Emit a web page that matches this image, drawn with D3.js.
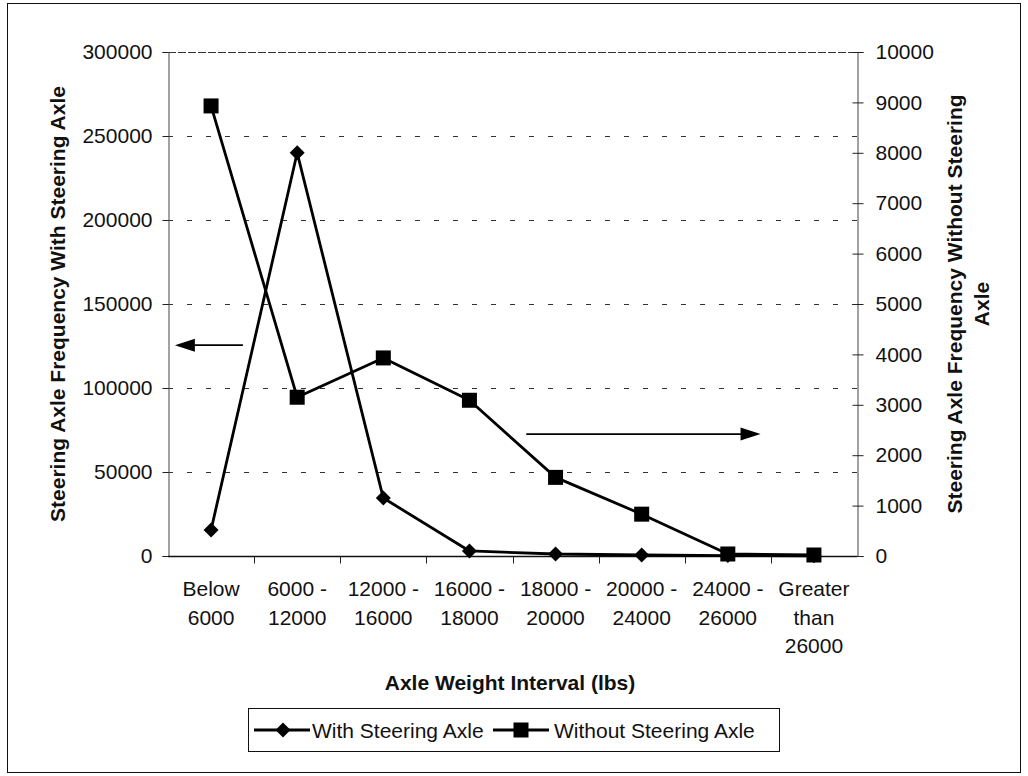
<!DOCTYPE html>
<html>
<head>
<meta charset="utf-8">
<script src="https://cdn.jsdelivr.net/npm/d3@7"></script>
<style>
  html, body { margin: 0; padding: 0; background: #fff; }
  svg { display: block; font-family: "Liberation Sans", Arial, Helvetica, sans-serif; }
</style>
</head>
<body>
<svg id="chart" width="1028" height="776"></svg>
<script>
// Axle weight intervals (two-line / three-line category labels)
const categories = [
  ["Below", "6000"],
  ["6000 -", "12000"],
  ["12000 -", "16000"],
  ["16000 -", "18000"],
  ["18000 -", "20000"],
  ["20000 -", "24000"],
  ["24000 -", "26000"],
  ["Greater", "than", "26000"]
];

// Steering axle frequency, with steering axle (left axis)
const withSteering = [15500, 240000, 34500, 3000, 1200, 600, 250, 100];
// Steering axle frequency, without steering axle (right axis)
const withoutSteering = [8930, 3150, 3930, 3090, 1560, 830, 40, 20];

const leftTicks = [0, 50000, 100000, 150000, 200000, 250000, 300000];
const rightTicks = [0, 1000, 2000, 3000, 4000, 5000, 6000, 7000, 8000, 9000, 10000];

const seriesNames = ["With Steering Axle", "Without Steering Axle"];

const svg = d3.select("#chart");
const plot = { left: 168, right: 857, top: 52, bottom: 556 };
const FS = 21;

// Outer frame
svg.append("rect")
  .attr("x", 7.5).attr("y", 3.5)
  .attr("width", 1013).attr("height", 769)
  .attr("fill", "none").attr("stroke", "#111").attr("stroke-width", 1);

const n = categories.length;
const x = d3.scaleLinear().domain([0, n]).range([plot.left, plot.right]);
const xc = i => x(i + 0.5);
const yL = d3.scaleLinear().domain([0, 300000]).range([plot.bottom, plot.top]);
const yR = d3.scaleLinear().domain([0, 10000]).range([plot.bottom, plot.top]);

// Horizontal gridlines
svg.append("g").selectAll("line")
  .data(leftTicks.filter(d => d > 0))
  .join("line")
  .attr("x1", plot.left).attr("x2", plot.right)
  .attr("y1", d => Math.round(yL(d)) + 0.5).attr("y2", d => Math.round(yL(d)) + 0.5)
  .attr("stroke", "#333").attr("stroke-width", 1)
  .attr("stroke-dasharray", d => d === 300000 ? "8,2" : "5,14");

// Left axis
const axL = svg.append("g")
  .attr("transform", `translate(${plot.left + 0.5},0)`)
  .call(d3.axisLeft(yL).tickValues(leftTicks).tickSize(6).tickPadding(10).tickFormat(d3.format("d")));
axL.select(".domain").attr("stroke", "#444");
axL.selectAll(".tick line").attr("stroke", "#222");
axL.selectAll("text").attr("font-size", FS).attr("fill", "#111").attr("font-family", null);

// Right axis (ticks cross the axis line)
const axR = svg.append("g")
  .attr("transform", `translate(${plot.right + 0.5},0)`)
  .call(d3.axisRight(yR).tickValues(rightTicks).tickSize(6).tickPadding(12).tickFormat(d3.format("d")));
axR.select(".domain").attr("stroke", "#444");
axR.selectAll(".tick line").attr("x1", -5).attr("stroke", "#222");
axR.selectAll("text").attr("font-size", FS).attr("fill", "#111").attr("font-family", null);

// Bottom axis: ticks at category boundaries
const axB = svg.append("g").attr("transform", `translate(0,${plot.bottom + 0.5})`);
axB.append("line").attr("x1", plot.left).attr("x2", plot.right)
  .attr("stroke", "#111").attr("stroke-width", 1.5);
axB.selectAll("line.tk")
  .data(d3.range(1, n))
  .join("line").attr("class", "tk")
  .attr("x1", d => Math.round(x(d)) + 0.5).attr("x2", d => Math.round(x(d)) + 0.5)
  .attr("y1", 0).attr("y2", 7)
  .attr("stroke", "#222");

// Category labels
const catG = svg.append("g");
categories.forEach((lines, i) => {
  const t = catG.append("text")
    .attr("x", xc(i)).attr("y", 596)
    .attr("text-anchor", "middle").attr("font-size", FS).attr("fill", "#111");
  lines.forEach((s, k) => {
    t.append("tspan").attr("x", xc(i)).attr("dy", k === 0 ? 0 : 28.5).text(s);
  });
});

// Axis titles
svg.append("text")
  .attr("transform", `translate(65,${(plot.top + plot.bottom) / 2}) rotate(-90)`)
  .attr("text-anchor", "middle").attr("font-size", FS).attr("font-weight", "bold").attr("fill", "#111")
  .text("Steering Axle Frequency With Steering Axle");

const rt = svg.append("text")
  .attr("transform", `translate(962,${(plot.top + plot.bottom) / 2}) rotate(-90)`)
  .attr("text-anchor", "middle").attr("font-size", FS).attr("font-weight", "bold").attr("fill", "#111");
rt.append("tspan").attr("x", 0).attr("y", 0).text("Steering Axle Frequency Without Steering");
rt.append("tspan").attr("x", 0).attr("y", 27).text("Axle");

svg.append("text")
  .attr("x", 510).attr("y", 690)
  .attr("text-anchor", "middle").attr("font-size", FS).attr("font-weight", "bold").attr("fill", "#111")
  .text("Axle Weight Interval (lbs)");

// Series lines
const lineL = d3.line().x((d, i) => xc(i)).y(d => yL(d));
const lineR = d3.line().x((d, i) => xc(i)).y(d => yR(d));

svg.append("path").datum(withSteering).attr("d", lineL)
  .attr("fill", "none").attr("stroke", "#000").attr("stroke-width", 2.8).attr("stroke-linejoin", "round");
svg.append("path").datum(withoutSteering).attr("d", lineR)
  .attr("fill", "none").attr("stroke", "#000").attr("stroke-width", 2.8).attr("stroke-linejoin", "round");

const diamond = d3.symbol().type(d3.symbolSquare).size(112);
svg.append("g").selectAll("path")
  .data(withSteering).join("path")
  .attr("d", diamond)
  .attr("transform", (d, i) => `translate(${xc(i)},${yL(d)}) rotate(45)`)
  .attr("fill", "#000");

svg.append("g").selectAll("rect")
  .data(withoutSteering).join("rect")
  .attr("x", (d, i) => xc(i) - 7.5).attr("y", d => yR(d) - 7.5)
  .attr("width", 15).attr("height", 15)
  .attr("fill", "#000");

// Direction arrows pointing at each series' axis
function arrow(x1, x2, y) {
  const dir = Math.sign(x2 - x1);
  svg.append("line")
    .attr("x1", x1).attr("x2", x2 - dir * 14).attr("y1", y).attr("y2", y)
    .attr("stroke", "#000").attr("stroke-width", 1.8);
  svg.append("path")
    .attr("d", `M${x2},${y} L${x2 - dir * 20},${y - 6.5} L${x2 - dir * 20},${y + 6.5} Z`)
    .attr("fill", "#000");
}
arrow(x(0.87), x(0.08), yL(125500));
arrow(x(4.16), x(6.88), yR(2420));

// Legend
const lg = svg.append("g");
lg.append("rect").attr("x", 248.5).attr("y", 708.5).attr("width", 531).attr("height", 43)
  .attr("fill", "#fff").attr("stroke", "#111");
const ly = 730;
lg.append("line").attr("x1", 254).attr("x2", 310).attr("y1", ly).attr("y2", ly)
  .attr("stroke", "#000").attr("stroke-width", 2.8);
lg.append("path").attr("d", diamond).attr("transform", `translate(283,${ly}) rotate(45)`).attr("fill", "#000");
lg.append("text").attr("x", 312).attr("y", ly + 7.5).attr("font-size", FS).attr("fill", "#111").text(seriesNames[0]);

lg.append("line").attr("x1", 493).attr("x2", 549).attr("y1", ly).attr("y2", ly)
  .attr("stroke", "#000").attr("stroke-width", 2.8);
lg.append("rect").attr("x", 521 - 7.5).attr("y", ly - 7.5).attr("width", 15).attr("height", 15).attr("fill", "#000");
lg.append("text").attr("x", 554).attr("y", ly + 7.5).attr("font-size", FS).attr("fill", "#111").text(seriesNames[1]);
</script>
</body>
</html>
